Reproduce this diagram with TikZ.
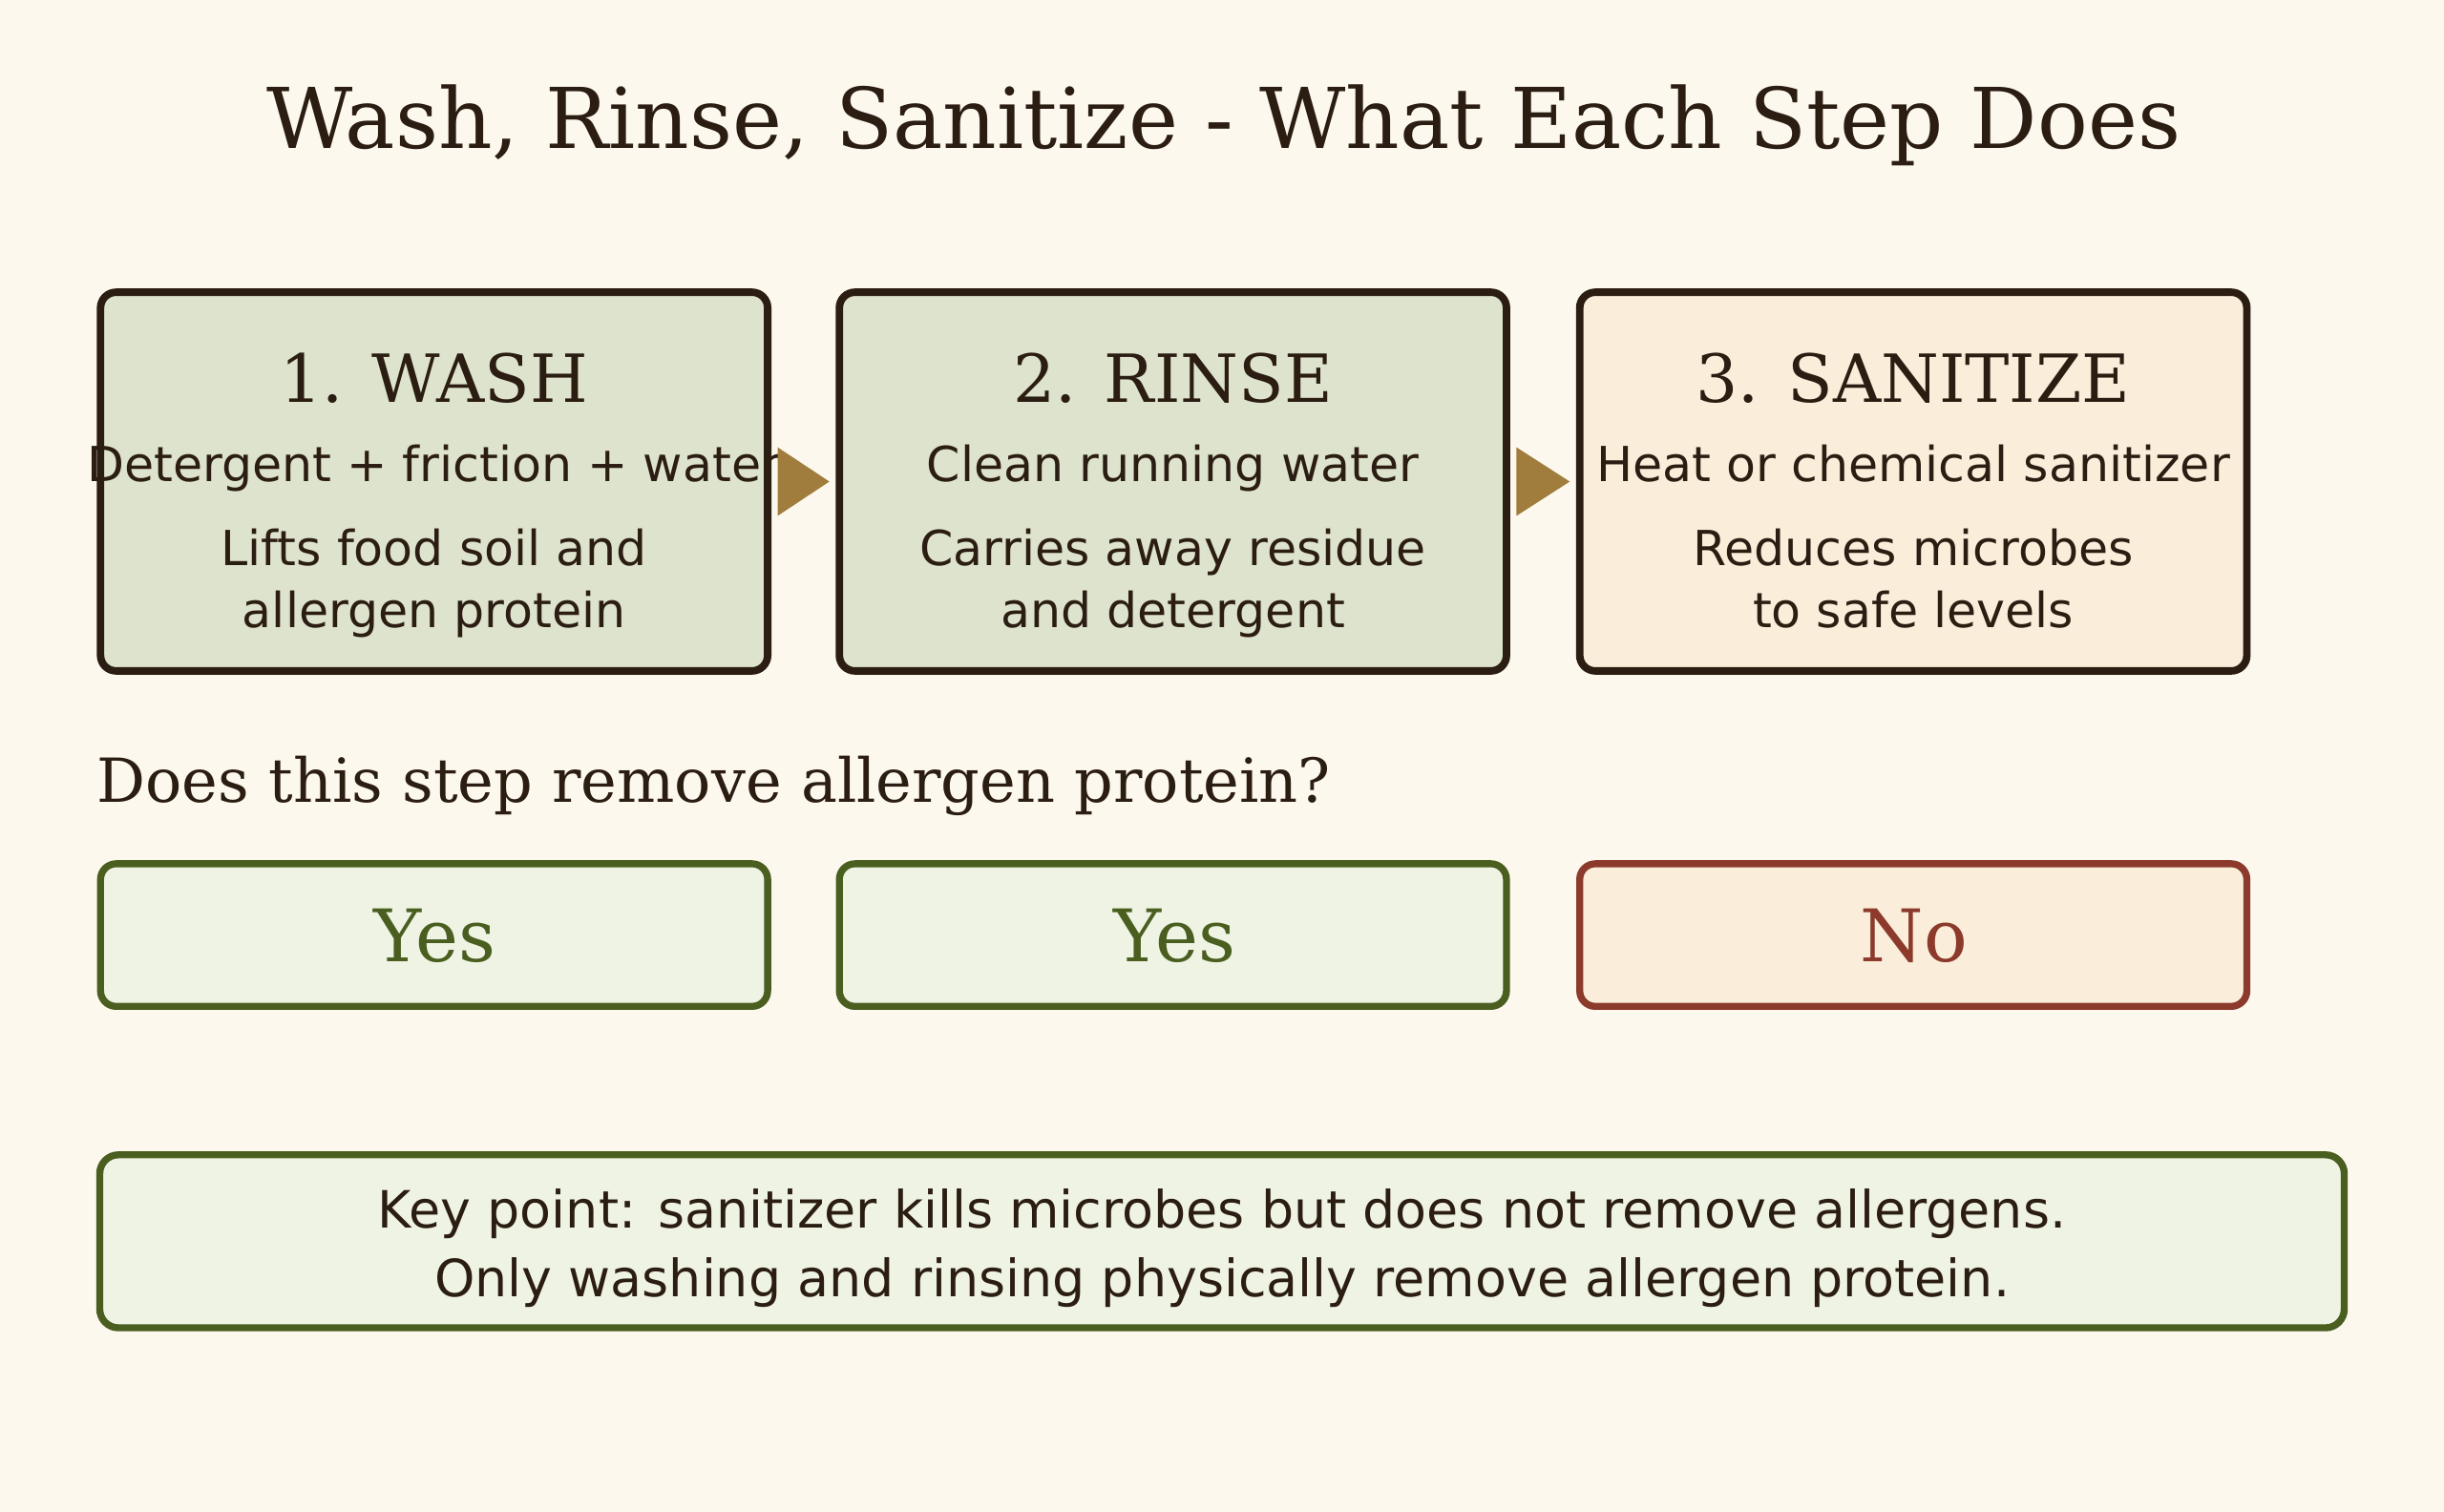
\documentclass[tikz,border=0pt]{standalone}
\usepackage{fontspec}
\setmainfont{DejaVu Serif}
\setsansfont{DejaVu Sans}
\definecolor{bg}{HTML}{FCF8EE}
\definecolor{ink}{HTML}{2B1D12}
\definecolor{sage}{HTML}{DDE3CC}
\definecolor{peach}{HTML}{FAEEDA}
\definecolor{okgreen}{HTML}{4A5E20}
\definecolor{okfill}{HTML}{EFF3E4}
\definecolor{rust}{HTML}{8B3A2B}
\definecolor{bronze}{HTML}{A07D3C}
\tikzset{
  stepbox/.style={draw=ink, line width=4.8pt, rounded corners=10pt, inner sep=0pt,
    minimum width=428pt, minimum height=243pt},
  ansbox/.style={line width=4.5pt, rounded corners=10pt, inner sep=0pt,
    minimum width=428pt, minimum height=91.5pt},
  steptitle/.style={anchor=base, inner sep=0pt, text=ink, font=\rmfamily\fontsize{42.6}{50}\selectfont},
  body/.style={anchor=base, inner sep=0pt, text=ink, font=\sffamily\fontsize{31}{38}\selectfont},
  keytext/.style={anchor=base, inner sep=0pt, text=ink, font=\sffamily\fontsize{33}{40}\selectfont},
  anstext/.style={anchor=base, inner sep=0pt, font=\rmfamily\fontsize{46.5}{54}\selectfont},
  flowarrow/.style={fill=bronze},
}
\begin{document}
\begin{tikzpicture}[x=1pt,y=-1pt]
\fill[bg] (0,0) rectangle (1568,970);
\useasboundingbox (0,0) rectangle (1568,970);
% title
\node[anchor=base, inner sep=0pt, text=ink, font=\rmfamily\fontsize{53.8}{64}\selectfont] (title) at (785,95) {Wash, Rinse, Sanitize - What Each Step Does};
% step boxes
\node[stepbox, fill=sage] (b1) at (278.5,309) {};
\node[stepbox, fill=sage] (b2) at (752.5,309) {};
\node[stepbox, fill=peach] (b3) at (1227.5,309) {};
% step texts
\node[steptitle] (t1) at (278.5,258) {1. WASH};
\node[body] (d1) at (278.5,309) {Detergent + friction + water};
\node[body] (e1a) at (278.5,363) {Lifts food soil and};
\node[body] (e1b) at (278.5,403) {allergen protein};
\node[steptitle] (t2) at (752.5,258) {2. RINSE};
\node[body] (d2) at (752.5,309) {Clean running water};
\node[body] (e2a) at (752.5,363) {Carries away residue};
\node[body] (e2b) at (752.5,403) {and detergent};
\node[steptitle] (t3) at (1227.5,258) {3. SANITIZE};
\node[body] (d3) at (1227.5,309) {Heat or chemical sanitizer};
\node[body] (e3a) at (1227.5,363) {Reduces microbes};
\node[body] (e3b) at (1227.5,403) {to safe levels};
% arrows
\fill[flowarrow] ([xshift=4pt,yshift=22pt]b1.east) -- ([xshift=-4pt]b2.west) -- ([xshift=4pt,yshift=-22pt]b1.east) -- cycle;
\fill[flowarrow] ([xshift=4pt,yshift=22pt]b2.east) -- ([xshift=-4pt]b3.west) -- ([xshift=4pt,yshift=-22pt]b2.east) -- cycle;
% question
\node[anchor=base west, inner sep=0pt, text=ink, font=\rmfamily\fontsize{39}{46}\selectfont] (q) at (62,515) {Does this step remove allergen protein?};
% answer boxes
\node[ansbox, draw=okgreen, fill=okfill] (a1) at (278.5,600) {};
\node[ansbox, draw=okgreen, fill=okfill] (a2) at (752.5,600) {};
\node[ansbox, draw=rust, fill=peach] (a3) at (1227.5,600) {};
\node[anstext, text=okgreen] (y1) at (279,617) {Yes};
\node[anstext, text=okgreen] (y2) at (753.5,617) {Yes};
\node[anstext, text=rust] (n3) at (1228,617) {No};
% key point
\node[draw=okgreen, fill=okfill, line width=4.5pt, rounded corners=12pt, inner sep=0pt,
  minimum width=1440pt, minimum height=111pt] (key) at (784,796.5) {};
\node[keytext] (k1) at (784,788) {Key point: sanitizer kills microbes but does not remove allergens.};
\node[keytext] (k2) at (784,832) {Only washing and rinsing physically remove allergen protein.};
\end{tikzpicture}
\end{document}
